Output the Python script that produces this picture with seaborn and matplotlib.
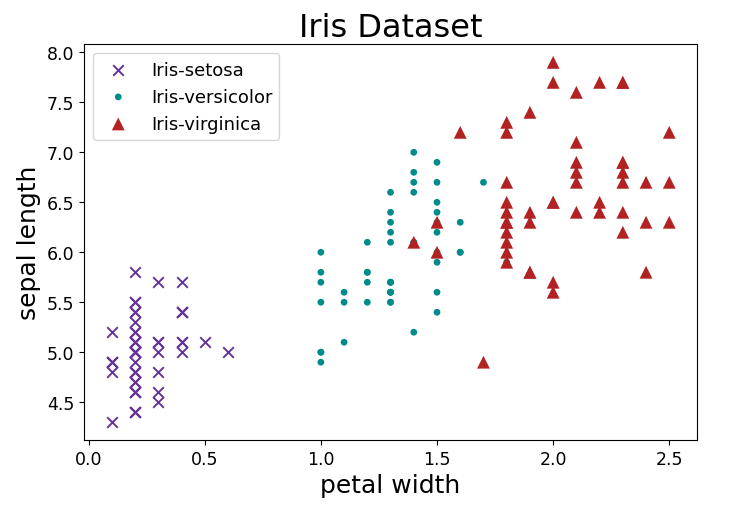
import numpy as np
import pandas as pd
import seaborn as sns
import matplotlib
matplotlib.use('Agg')
import matplotlib.pyplot as plt

# petal width / sepal length per species (iris)
setosa_pw = [0.2, 0.2, 0.2, 0.2, 0.2, 0.4, 0.3, 0.2, 0.2, 0.1,
             0.2, 0.2, 0.1, 0.1, 0.2, 0.4, 0.4, 0.3, 0.3, 0.3,
             0.2, 0.4, 0.2, 0.5, 0.2, 0.2, 0.4, 0.2, 0.2, 0.2,
             0.2, 0.4, 0.1, 0.2, 0.1, 0.2, 0.2, 0.1, 0.2, 0.2,
             0.3, 0.3, 0.2, 0.6, 0.4, 0.3, 0.2, 0.2, 0.2, 0.2]
setosa_sl = [5.1, 4.9, 4.7, 4.6, 5.0, 5.4, 4.6, 5.0, 4.4, 4.9,
             5.4, 4.8, 4.8, 4.3, 5.8, 5.7, 5.4, 5.1, 5.7, 5.1,
             5.4, 5.1, 4.6, 5.1, 4.8, 5.0, 5.0, 5.2, 5.2, 4.7,
             4.8, 5.4, 5.2, 5.5, 4.9, 5.0, 5.5, 4.9, 4.4, 5.1,
             5.0, 4.5, 4.4, 5.0, 5.1, 4.8, 5.1, 4.6, 5.3, 5.0]

versicolor_pw = [1.4, 1.5, 1.5, 1.3, 1.5, 1.3, 1.6, 1.0, 1.3, 1.4,
                 1.0, 1.5, 1.0, 1.4, 1.3, 1.4, 1.5, 1.0, 1.5, 1.1,
                 1.8, 1.3, 1.5, 1.2, 1.3, 1.4, 1.4, 1.7, 1.5, 1.0,
                 1.1, 1.0, 1.2, 1.6, 1.5, 1.6, 1.5, 1.3, 1.3, 1.3,
                 1.2, 1.4, 1.2, 1.0, 1.3, 1.2, 1.3, 1.3, 1.1, 1.3]
versicolor_sl = [7.0, 6.4, 6.9, 5.5, 6.5, 5.7, 6.3, 4.9, 6.6, 5.2,
                 5.0, 5.9, 6.0, 6.1, 5.6, 6.7, 5.6, 5.8, 6.2, 5.6,
                 5.9, 6.1, 6.3, 6.1, 6.4, 6.6, 6.8, 6.7, 6.0, 5.7,
                 5.5, 5.5, 5.8, 6.0, 5.4, 6.0, 6.7, 6.3, 5.6, 5.5,
                 5.5, 6.1, 5.8, 5.0, 5.6, 5.7, 5.7, 6.2, 5.1, 5.7]

virginica_pw = [2.5, 1.9, 2.1, 1.8, 2.2, 2.1, 1.7, 1.8, 1.8, 2.5,
                2.0, 1.9, 2.1, 2.0, 2.4, 2.3, 1.8, 2.2, 2.3, 1.5,
                2.3, 2.0, 2.0, 1.8, 2.1, 1.8, 1.8, 1.8, 2.1, 1.6,
                1.9, 2.0, 2.2, 1.5, 1.4, 2.3, 2.4, 1.8, 1.8, 2.1,
                2.4, 2.3, 1.9, 2.3, 2.5, 2.3, 1.9, 2.0, 2.3, 1.8]
virginica_sl = [6.3, 5.8, 7.1, 6.3, 6.5, 7.6, 4.9, 7.3, 6.7, 7.2,
                6.5, 6.4, 6.8, 5.7, 5.8, 6.4, 6.5, 7.7, 7.7, 6.0,
                6.9, 5.6, 7.7, 6.3, 6.7, 7.2, 6.2, 6.1, 6.4, 7.2,
                7.4, 7.9, 6.4, 6.3, 6.1, 7.7, 6.3, 6.4, 6.0, 6.9,
                6.7, 6.9, 5.8, 6.8, 6.7, 6.7, 6.3, 6.5, 6.2, 5.9]

species = ['Iris-setosa', 'Iris-versicolor', 'Iris-virginica']
colors = ['rebeccapurple', 'darkcyan', 'firebrick']
markers = ['x', '.', '^']
sizes = [58, 95, 85]

df = pd.concat([
    pd.DataFrame({'petal width': setosa_pw, 'sepal length': setosa_sl, 'species': species[0]}),
    pd.DataFrame({'petal width': versicolor_pw, 'sepal length': versicolor_sl, 'species': species[1]}),
    pd.DataFrame({'petal width': virginica_pw, 'sepal length': virginica_sl, 'species': species[2]}),
])

fig = plt.figure(figsize=(7.3, 5.1), dpi=100)
ax = fig.add_axes([0.115, 0.135, 0.84, 0.776])

for sp, c, m, s in zip(species, colors, markers, sizes):
    sub = df[df['species'] == sp]
    if m == 'x':
        kw = dict(linewidth=1.4)
    else:
        kw = dict(edgecolor='none')
    sns.scatterplot(data=sub, x='petal width', y='sepal length', color=c,
                    marker=m, s=s, label=sp, ax=ax, **kw)

ax.set_title('Iris Dataset', fontsize=23)
ax.set_xlabel('petal width', fontsize=18)
ax.set_ylabel('sepal length', fontsize=18)
ax.tick_params(labelsize=12.5)
ax.legend(loc='upper left', fontsize=13)

plt.savefig('out.png')
